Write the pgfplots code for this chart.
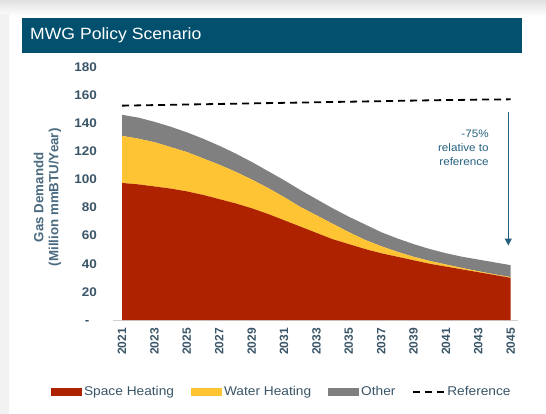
\documentclass[border=0pt]{standalone}
\usepackage{pgfplots}
\pgfplotsset{compat=1.18}
\usepackage{pgfplotstable}
\usepackage{fontspec}
\setmainfont{Liberation Sans}[FakeStretch=1.08]
\newfontfamily\plainfont{Liberation Sans}
\usetikzlibrary{arrows.meta}
\definecolor{spacered}{HTML}{AE2200}
\definecolor{wateryel}{HTML}{FFC433}
\definecolor{othergray}{HTML}{808080}
\definecolor{titleblue}{HTML}{03506E}
\definecolor{ticktxt}{HTML}{3A5568}
\definecolor{labeltxt}{HTML}{4A6A80}
\definecolor{annot}{HTML}{24607F}

\pgfplotstableread{
year space water other ref
2021 97.5 33.5 15.0 152.5
2022 96.5 32.5 15.0 152.7
2023 95.0 31.5 14.5 152.9
2024 93.5 29.5 14.5 153.1
2025 91.5 28.0 14.0 153.3
2026 89.0 26.0 14.0 153.5
2027 86.0 24.5 13.5 153.7
2028 83.0 22.5 13.0 153.9
2029 79.5 20.5 12.5 154.1
2030 75.5 18.5 12.0 154.3
2031 71.0 16.5 12.0 154.5
2032 66.5 14.0 12.0 154.7
2033 62.0 12.5 11.5 154.9
2034 57.5 11.0 11.0 155.1
2035 54.0 8.5 11.0 155.3
2036 50.5 6.5 11.0 155.5
2037 47.5 5.0 10.0 155.7
2038 45.0 3.5 9.5 155.9
2039 42.5 2.5 9.0 156.1
2040 40.0 2.0 8.5 156.3
2041 38.0 1.5 8.0 156.5
2042 36.0 1.0 8.0 156.6
2043 34.0 0.7 8.3 156.8
2044 32.0 0.5 8.5 156.9
2045 30.0 0.5 8.5 157.0
}\demand

\begin{document}
\begin{tikzpicture}
\path[use as bounding box] (0,0) rectangle (546bp,414bp);
\fill[white] (0,0) rectangle (546bp,414bp);
\shade[top color=black!12, bottom color=white] (0,398bp) rectangle (546bp,414bp);
\fill[black!5] (0,0) rectangle (9bp,400bp);
\fill[titleblue] (22bp,361bp) rectangle (522bp,396bp);
\node[anchor=west, text=white, inner sep=0pt, font=\fontsize{16.3bp}{19bp}\selectfont] at (30bp,378.5bp) {MWG Policy Scenario};

\begin{axis}[
  at={(113bp,94bp)}, anchor=south west,
  scale only axis, width=405bp, height=253bp,
  xmin=2020.44, xmax=2045.45, ymin=0, ymax=180,
  stack plots=y,
  axis x line*=bottom, axis y line*=left,
  y axis line style={draw=none},
  x axis line style={draw=black!18, line width=1bp},
  major tick length=0pt,
  xtick={2021,2023,...,2045},
  xticklabels={2021,2023,2025,2027,2029,2031,2033,2035,2037,2039,2041,2043,2045},
  ytick={0,20,...,180},
  yticklabels={-\phantom{0},20,40,60,80,100,120,140,160,180},
  yticklabel style={font=\fontsize{12.5bp}{14bp}\selectfont\bfseries, text=ticktxt, inner sep=0pt},
  xticklabel style={font=\plainfont\fontsize{12bp}{14bp}\selectfont\bfseries, text=ticktxt, inner sep=0pt, rotate=90, anchor=east},
  xticklabel shift=8bp,
  yticklabel shift=16bp,
  /pgf/number format/assume math mode=true,
  ylabel={Gas Demandd\\(Million mmBTU/Year)},
  ylabel style={at={(axis description cs:-0.162,0.485)}, anchor=center, rotate=0, align=center,
    font=\plainfont\fontsize{13.3bp}{15bp}\selectfont\bfseries, text=labeltxt},
  legend columns=4,
  legend cell align=left,
  legend style={at={(-0.162,-0.285)}, anchor=west, draw=none, fill=none,
    font=\fontsize{12.7bp}{15bp}\selectfont, text=ticktxt,
    nodes={inner xsep=2.5bp, inner ysep=1bp},
    /tikz/every even column/.append style={column sep=14bp}},
  clip=false,
]
\addplot[fill=spacered, draw=none,
  legend image code/.code={\fill[spacered] (0bp,-3.7bp) rectangle (31bp,3.7bp);}]
  table[x=year, y=space] {\demand} \closedcycle;
\addlegendentry{Space Heating}
\addplot[fill=wateryel, draw=none,
  legend image code/.code={\fill[wateryel] (0bp,-3.7bp) rectangle (31bp,3.7bp);}]
  table[x=year, y=water] {\demand} \closedcycle;
\addlegendentry{Water Heating}
\addplot[fill=othergray, draw=none,
  legend image code/.code={\fill[othergray] (0bp,-3.7bp) rectangle (31bp,3.7bp);}]
  table[x=year, y=other] {\demand} \closedcycle;
\addlegendentry{Other}
\addplot[stack plots=false, black, line width=1.8bp, dash pattern=on 7bp off 5bp,
  legend image code/.code={\draw[black, line width=1.8bp, dash pattern=on 7bp off 5bp] (0bp,0bp) -- (31bp,0bp);}]
  table[x=year, y=ref] {\demand};
\addlegendentry{Reference}

\draw[annot, line width=1.2bp, -{Triangle[width=7bp,length=7bp]}] (axis cs:2044.85,148) -- (axis cs:2044.85,53);
\node[anchor=north east, align=right, inner sep=0pt, text=annot,
  font=\fontsize{10.8bp}{14bp}\selectfont] at (axis cs:2043.65,135) {-75\%\\relative to\\reference};
\end{axis}
\end{tikzpicture}
\end{document}
